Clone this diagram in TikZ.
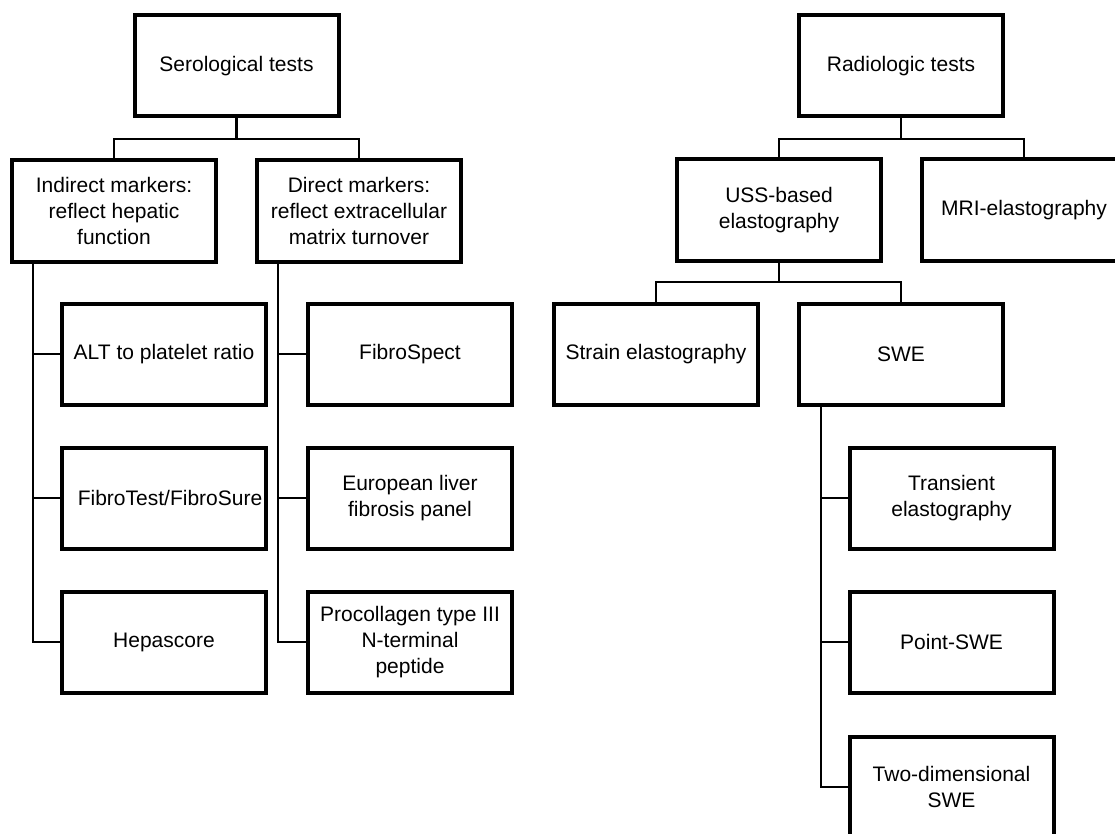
\documentclass[tikz,border=0pt]{standalone}
\usepackage{fontspec}
\setmainfont{Liberation Sans}
\begin{document}
\begin{tikzpicture}[x=1pt,y=-1pt,
  box/.style={draw=black,line width=4pt,fill=white,minimum width=204pt,minimum height=101pt,
    align=center,inner sep=0pt,font=\fontsize{21}{26}\selectfont},
  conn/.style={draw=black,line width=2.8pt}]
\useasboundingbox (0,0) rectangle (1115,834);
\clip (0,0) rectangle (1115,834);
% left tree
\node[box] (ser) at (236.5,66) {Serological tests};
\node[box] (ind) at (114,211) {Indirect markers:\\reflect hepatic\\function};
\node[box] (dir) at (359,211) {Direct markers:\\reflect extracellular\\matrix turnover};
\node[box] (alt) at (164,354) {ALT to platelet ratio};
\node[box] (fts) at (164,498) {\hspace*{12pt}FibroTest/FibroSure};
\node[box] (hep) at (164,642) {Hepascore};
\node[box] (fsp) at (410,354) {FibroSpect};
\node[box] (elf) at (410,498) {European liver\\fibrosis panel};
\node[box] (pro) at (410,642) {Procollagen type III\\N-terminal\\peptide};
% right tree
\node[box] (rad) at (901,66) {Radiologic tests};
\node[box] (uss) at (779,210) {USS-based\\elastography};
\node[box] (mri) at (1024,210) {MRI-elastography};
\node[box] (str) at (656,354) {Strain elastography};
\node[box] (swe) at (901,354) {SWE};
\node[box] (te) at (951.5,498) {Transient\\elastography};
\node[box] (pswe) at (951.5,642) {Point-SWE};
\node[box] (twod) at (951.5,787) {Two-dimensional\\SWE};
% junctions
\coordinate (j1) at (236.5,139);
\coordinate (j2) at (901,139);
\coordinate (j3) at (779,282);
\coordinate (ti) at (33,0);
\coordinate (td) at (278,0);
\coordinate (ts) at (821,0);
% connectors
\draw[conn] (ser.south) -- (j1);
\draw[conn] (ind.north) |- (j1) -| (dir.north);
\draw[conn] (ind.south -| ti) |- (hep.west);
\draw[conn] (alt.west -| ti) -- (alt.west);
\draw[conn] (fts.west -| ti) -- (fts.west);
\draw[conn] (dir.south -| td) |- (pro.west);
\draw[conn] (fsp.west -| td) -- (fsp.west);
\draw[conn] (elf.west -| td) -- (elf.west);
\draw[conn] (rad.south) -- (j2);
\draw[conn] (uss.north) |- (j2) -| (mri.north);
\draw[conn] (uss.south) -- (j3);
\draw[conn] (str.north) |- (j3) -| (swe.north);
\draw[conn] (swe.south -| ts) |- (twod.west);
\draw[conn] (te.west -| ts) -- (te.west);
\draw[conn] (pswe.west -| ts) -- (pswe.west);
\end{tikzpicture}
\end{document}
